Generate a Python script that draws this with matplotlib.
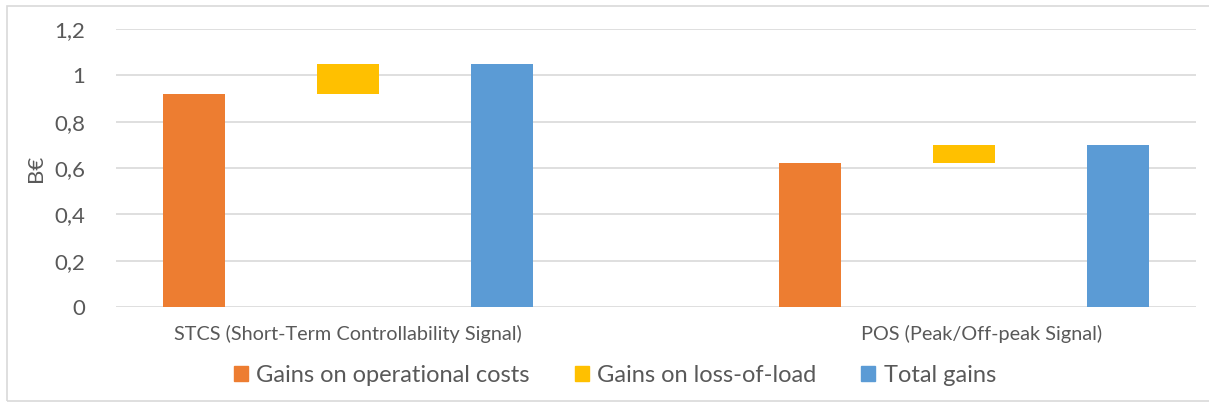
import matplotlib
matplotlib.use("Agg")
import matplotlib.pyplot as plt
from matplotlib.patches import Rectangle, Patch
from matplotlib.transforms import ScaledTranslation
import numpy as np

categories = ["STCS (Short-Term Controllability Signal)", "POS (Peak/Off-peak Signal)"]
operational = [0.92, 0.62]
loss_of_load = [0.13, 0.08]
total = [1.05, 0.70]
series_names = ["Gains on operational costs", "Gains on loss-of-load", "Total gains"]
y_ticks = [0, 0.2, 0.4, 0.6, 0.8, 1.0, 1.2]
y_tick_labels = ["0", "0,2", "0,4", "0,6", "0,8", "1", "1,2"]

c_orange = "#ED7D31"
c_yellow = "#FFC000"
c_blue = "#5B9BD5"
txt = "#595959"

plt.rcParams['font.family'] = ['Lato', 'DejaVu Sans']

fig = plt.figure(figsize=(12.09, 4.03), dpi=100)
ax = fig.add_axes([116/1209, 1-307/403, (1196-116)/1209, (307-29)/403])

x = np.arange(len(categories))
off = 0.25
w = 0.10
ax.bar(x - off, operational, width=w, color=c_orange, zorder=3)
ax.bar(x, loss_of_load, bottom=operational, width=w, color=c_yellow, zorder=3)
ax.bar(x + off, total, width=w, color=c_blue, zorder=3)

ax.set_xlim(-0.3766, 1.3766)
ax.set_ylim(0, 1.2)
ax.set_yticks(y_ticks)
ax.set_yticklabels(y_tick_labels, fontsize=16, color=txt)
ax.set_xticks(x)
ax.set_xticklabels(categories, fontsize=14.3, color=txt)
ax.tick_params(axis='both', length=0)
ax.tick_params(axis='y', pad=22)
ax.tick_params(axis='x', pad=13)
lbls = ax.get_xticklabels()
lbls[1].set_transform(lbls[1].get_transform() + ScaledTranslation(0.18, 0, fig.dpi_scale_trans))
ax.grid(axis='y', color="#D9D9D9", linewidth=1.2, zorder=0)
for s in ax.spines.values():
    s.set_visible(False)
ax.set_ylabel("B€", fontsize=16, color=txt, labelpad=6)

handles = [Patch(color=c_orange), Patch(color=c_yellow), Patch(color=c_blue)]
fig.legend(handles, series_names, loc='center', bbox_to_anchor=(615/1209, 1-375/403),
           ncol=3, frameon=False, fontsize=17, handlelength=0.6, handleheight=0.6,
           handletextpad=0.35, columnspacing=1.9, labelcolor=txt)

fig.patches.append(Rectangle((7/1209, 1-401/403), 1.0, 395/403, transform=fig.transFigure,
                             fill=False, edgecolor="#D9D9D9", linewidth=1.2))

fig.savefig("out.png", dpi=100, facecolor="white")
